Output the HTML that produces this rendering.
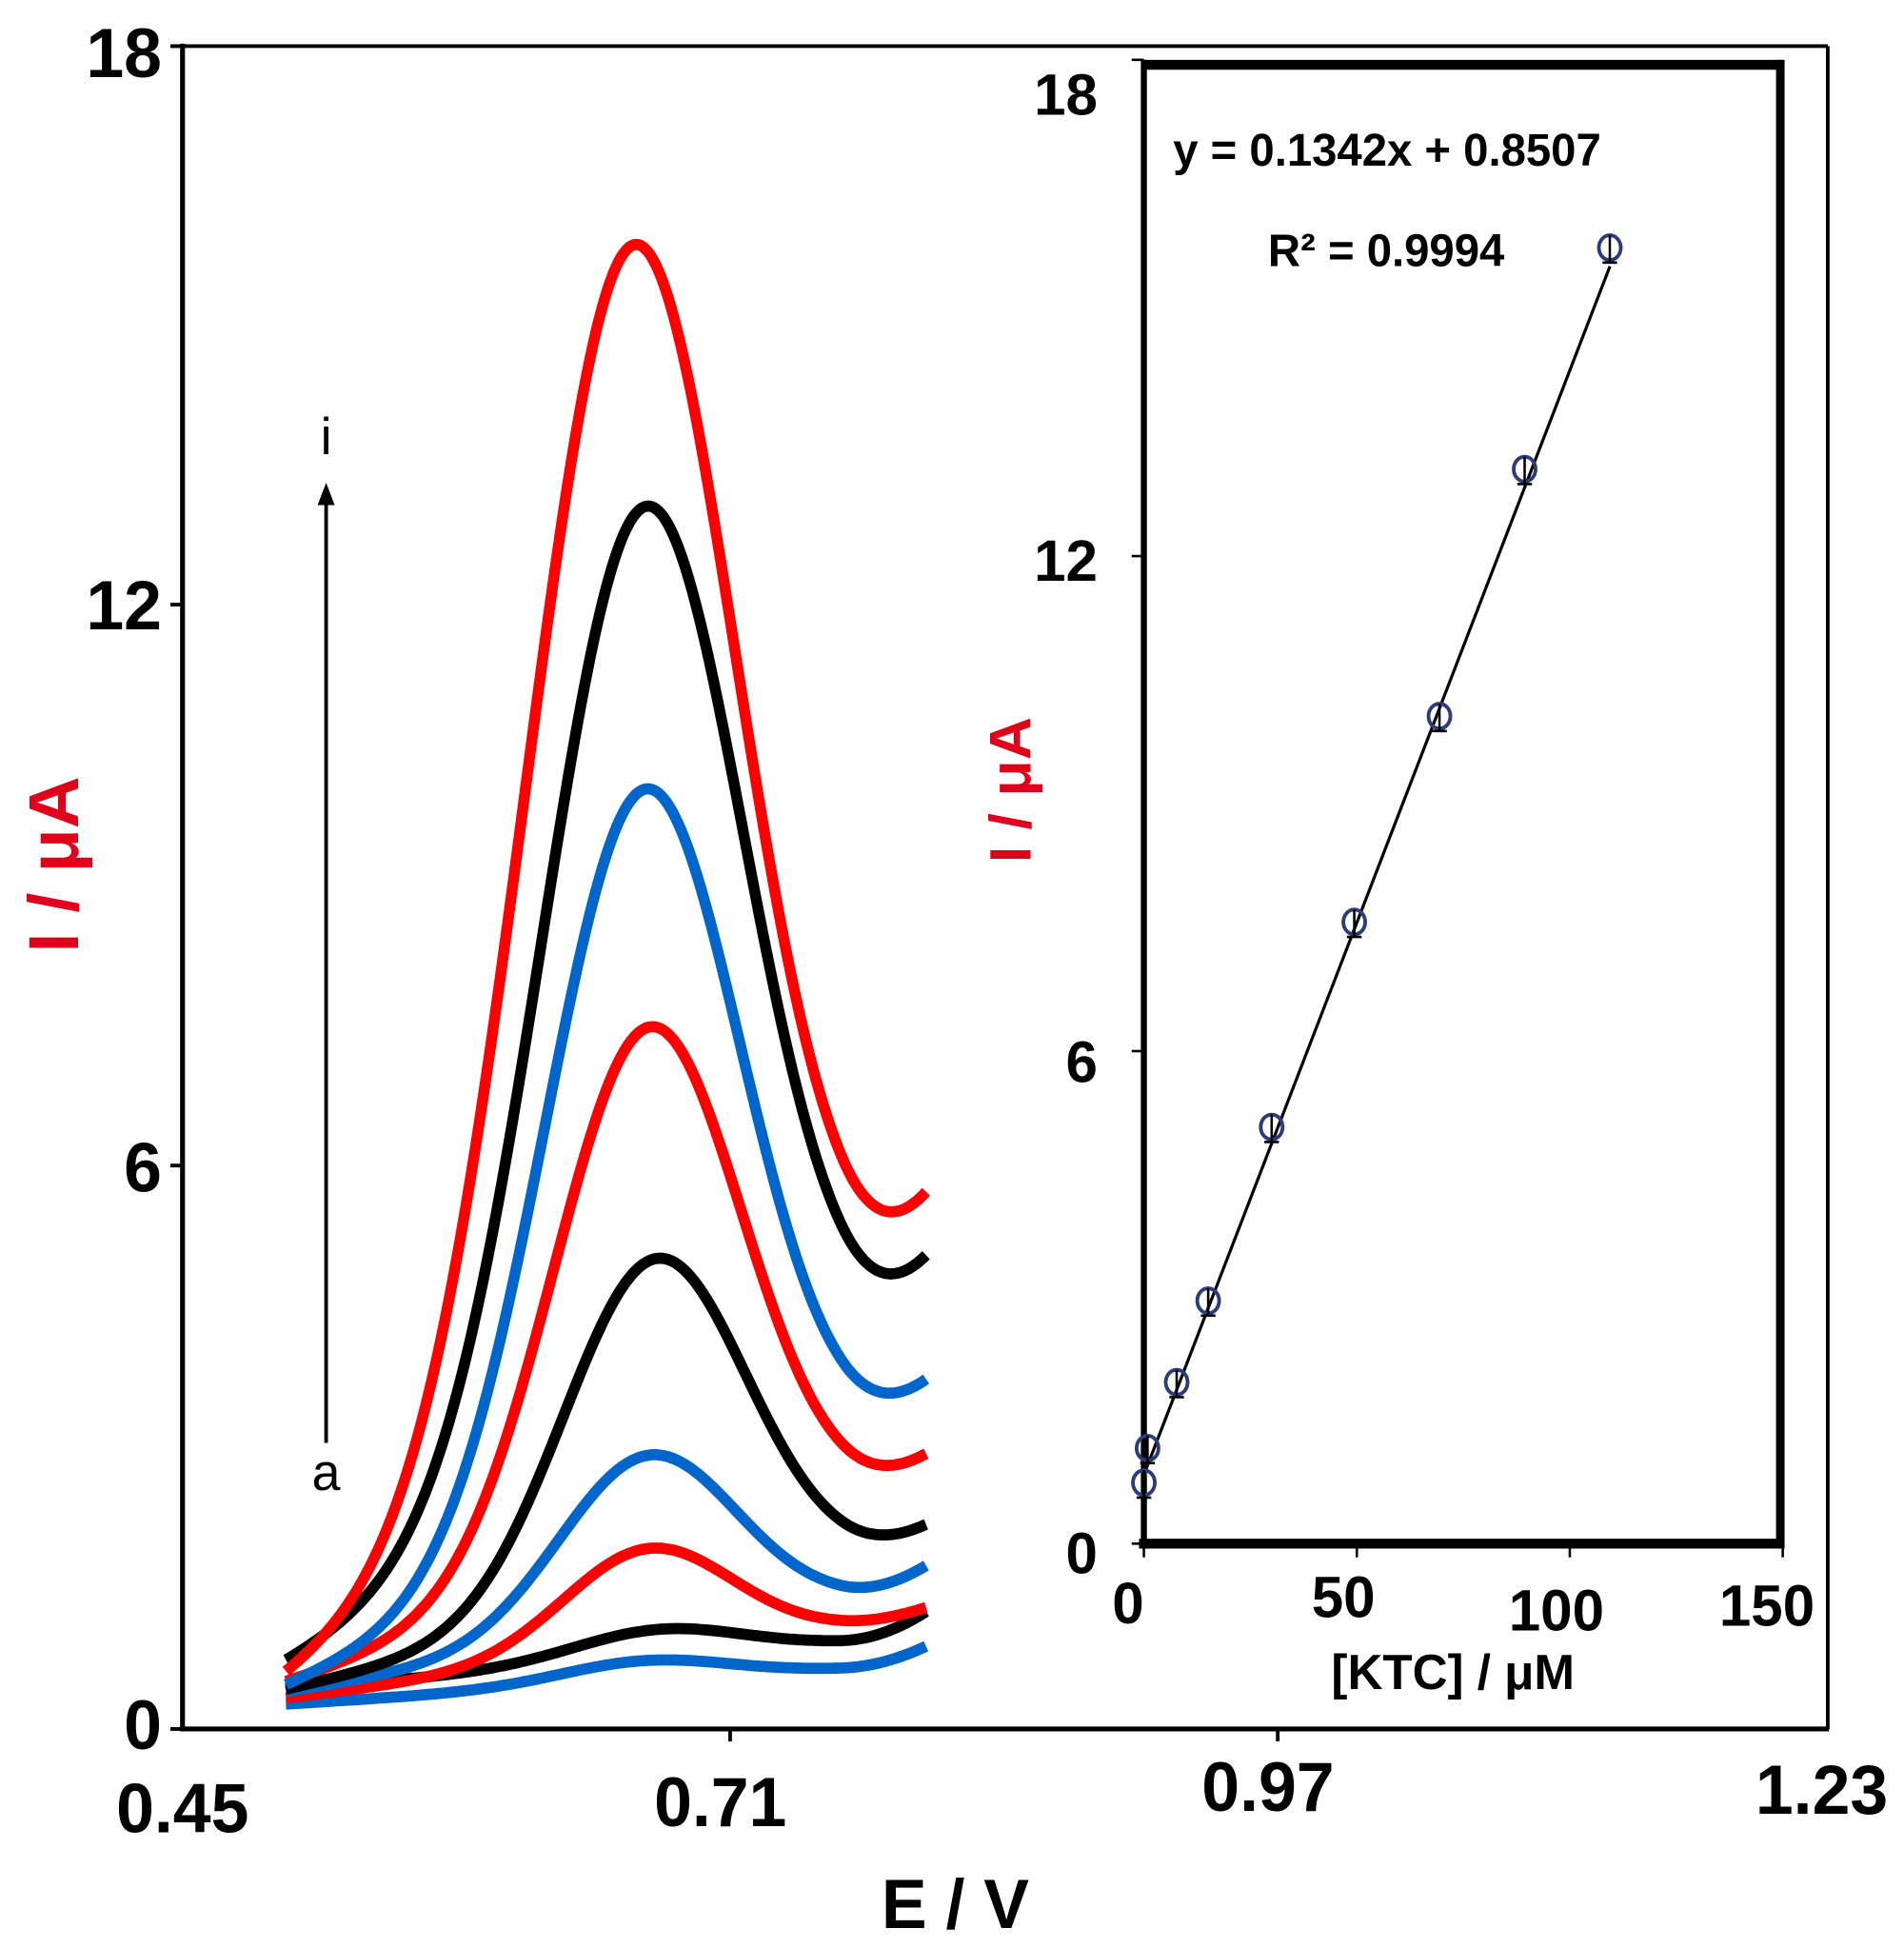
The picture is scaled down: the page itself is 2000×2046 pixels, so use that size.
<!DOCTYPE html>
<html><head><meta charset="utf-8">
<style>
html,body{margin:0;padding:0;background:#fff;overflow:hidden;}
svg{display:block;}
text{font-family:"Liberation Sans",Arial,sans-serif;font-weight:bold;}
</style></head>
<body>
<svg id="s" width="2000" height="2046" viewBox="0 0 1531 1566" xmlns="http://www.w3.org/2000/svg">
<rect x="0" y="0" width="1531" height="1566" fill="#fff"/>
<g transform="scale(0.9785,1)">
<line x1="150" y1="37" x2="1502" y2="37" stroke="#000" stroke-width="3"/>
<line x1="1502" y1="37" x2="1502" y2="1390" stroke="#000" stroke-width="3"/>
<line x1="150" y1="35" x2="150" y2="1392" stroke="#000" stroke-width="4"/>
<line x1="148" y1="1390" x2="1503" y2="1390" stroke="#000" stroke-width="4"/>
<g stroke="#000" stroke-width="3">
<line x1="140" y1="37" x2="150" y2="37"/><line x1="140" y1="486" x2="150" y2="486"/>
<line x1="140" y1="937" x2="150" y2="937"/><line x1="140" y1="1390" x2="150" y2="1390"/>
<line x1="600" y1="1390" x2="600" y2="1400"/><line x1="1050" y1="1390" x2="1050" y2="1400"/>
</g>
<g font-size="56" text-anchor="end">
<text x="133" y="62">18</text><text x="133" y="506">12</text>
<text x="133" y="958">6</text><text x="133" y="1406">0</text>
</g>
<g font-size="56" text-anchor="middle">
<text x="150" y="1473">0.45</text><text x="592" y="1468">0.71</text>
<text x="1042" y="1456">0.97</text><text x="1497" y="1458">1.23</text>
</g>
<text x="785" y="1550" font-size="56" text-anchor="middle">E /  V</text>
<text transform="translate(64,695) rotate(-90)" font-size="58" fill="#e0001b" text-anchor="middle">I / μA</text>
<line x1="268" y1="1160" x2="268" y2="400" stroke="#000" stroke-width="3"/>
<polygon points="268,388 261,406 275,406" fill="#000"/>
<text x="268" y="365" font-size="42" text-anchor="middle" style="font-weight:normal">i</text>
<text x="268" y="1198" font-size="42" text-anchor="middle" style="font-weight:normal">a</text>
<g id="curves" fill="none" stroke-width="9" stroke-linejoin="round" stroke-linecap="butt"></g>
<rect x="942" y="52" width="521" height="1187" fill="#fff" stroke="none"/>
<line x1="940" y1="48" x2="940" y2="1245" stroke="#000" stroke-width="5"/>
<line x1="938" y1="52" x2="1466" y2="52" stroke="#000" stroke-width="8"/>
<line x1="1463" y1="48" x2="1463" y2="1245" stroke="#000" stroke-width="7"/>
<line x1="936" y1="1241" x2="1466" y2="1241" stroke="#000" stroke-width="8"/>
<g stroke="#000" stroke-width="2">
<line x1="930" y1="48" x2="940" y2="48"/><line x1="930" y1="447" x2="940" y2="447"/>
<line x1="930" y1="845" x2="940" y2="845"/><line x1="930" y1="1241" x2="940" y2="1241"/>
<line x1="940" y1="1241" x2="940" y2="1252"/><line x1="1115" y1="1241" x2="1115" y2="1252"/>
<line x1="1290" y1="1241" x2="1290" y2="1252"/><line x1="1465" y1="1241" x2="1465" y2="1252"/>
</g>
<g font-size="47" text-anchor="end">
<text x="902" y="92">18</text><text x="902" y="467">12</text>
<text x="902" y="870">6</text><text x="902" y="1265">0</text>
</g>
<g font-size="47" text-anchor="middle">
<text x="927" y="1305">0</text><text x="1104" y="1300">50</text>
<text x="1279" y="1311">100</text><text x="1452" y="1307">150</text>
</g>
<text x="1194" y="1358" font-size="40" text-anchor="middle">[KTC] / μM</text>
<text transform="translate(847,635) rotate(-90)" font-size="48" fill="#e0001b" text-anchor="middle">I / μA</text>
<text x="964" y="133" font-size="37">y = 0.1342x + 0.8507</text>
<text x="1042" y="214" font-size="37">R² = 0.9994</text>
<line x1="940" y1="1185.7" x2="1323" y2="214" stroke="#000" stroke-width="2.5"/>
<g id="pts" fill="none" stroke="#2a3d7a" stroke-width="3"></g>
</g>
</svg>
<script>
var NS="http://www.w3.org/2000/svg";
var C=[
["#ff0000",1348,518,198,977,957,122],
["#000000",1336,528,408,1027,1008,117],
["#0066cc",1355,528,635,1122,1108,113],
["#ff0000",1352,532,826,1180,1168,109],
["#000000",1358,538,1012,1236,1225,106],
["#0066cc",1360,532,1170,1278,1258,103],
["#ff0000",1365,532,1245,1303,1292,98],
["#000000",1358,540,1310,1318,1295,98],
["#0066cc",1370,530,1335,1340,1323,98]
];
var g=document.getElementById("curves");
C.slice().reverse().forEach(function(c){
 var col=c[0],y0=c[1],xp=c[2],yp=c[3],yv=c[4],ye=c[5],w=c[6];
 function G(x){return Math.exp(-Math.pow((x-xp)/w,2));}
 var Gv=G(720);
 var t=(xp-235)/485;
 var A=(y0+(yv-y0)*t-yp)/(1-Gv*t);
 var b7=yv+A*Gv;
 function y1(x){return y0+(b7-y0)*(x-235)/485-A*G(x);}
 var k=y1(762)-ye;
 var d="";
 for(var x=235;x<=762;x+=2){
  var y=y1(x);
  if(x>690){var u=(x-690)/72;y-=k*u*u;}
  d+=(x==235?"M":"L")+x+","+y.toFixed(1);
 }
 var p=document.createElementNS(NS,"path");
 p.setAttribute("d",d);p.setAttribute("stroke",col);g.appendChild(p);
});
var P=[[0,0.74],[0.86,1.16],[7.7,1.96],[15.1,2.95],[30,5.06],[49.4,7.55],[69.4,10.05],[89.4,13.05],[109.4,15.74]];
var pg=document.getElementById("pts");
P.forEach(function(q){
 var x=940+q[0]*3.5,y=1241-q[1]*66.2;
 var e=document.createElementNS(NS,"ellipse");
 e.setAttribute("cx",x);e.setAttribute("cy",y);e.setAttribute("rx",9);e.setAttribute("ry",10);
 pg.appendChild(e);
 var l=document.createElementNS(NS,"path");
 l.setAttribute("d","M"+(x-6)+","+(y+12)+"h12M"+x+","+(y-10)+"v22");
 l.setAttribute("stroke","#000");l.setAttribute("stroke-width","2");pg.appendChild(l);
});
</script>
</body></html>
